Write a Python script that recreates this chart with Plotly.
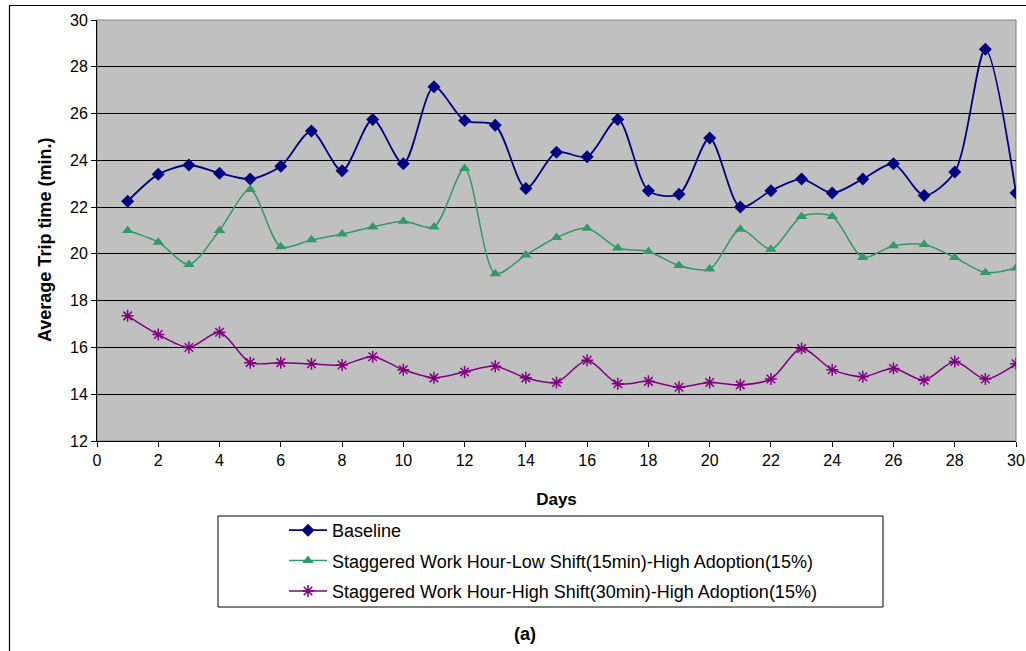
import plotly.graph_objects as go

days = list(range(1, 31))
baseline = [22.25, 23.4, 23.8, 23.45, 23.2, 23.75, 25.25, 23.55, 25.75, 23.85,
            27.15, 25.7, 25.5, 22.8, 24.35, 24.15, 25.75, 22.7, 22.55, 24.95,
            22.0, 22.7, 23.2, 22.6, 23.2, 23.85, 22.5, 23.5, 28.75, 22.6]
low_shift = [21.0, 20.5, 19.55, 21.0, 22.75, 20.3, 20.6, 20.85, 21.15, 21.4,
             21.15, 23.65, 19.15, 19.95, 20.7, 21.1, 20.25, 20.1, 19.5, 19.35,
             21.05, 20.2, 21.6, 21.6, 19.85, 20.35, 20.4, 19.85, 19.2, 19.4]
high_shift = [17.35, 16.55, 16.0, 16.65, 15.35, 15.35, 15.3, 15.25, 15.6, 15.05,
              14.7, 14.95, 15.2, 14.7, 14.5, 15.45, 14.45, 14.55, 14.3, 14.5,
              14.4, 14.65, 15.95, 15.05, 14.75, 15.1, 14.6, 15.4, 14.65, 15.3]
names = ["Baseline",
         "Staggered Work Hour-Low Shift(15min)-High Adoption(15%)",
         "Staggered Work Hour-High Shift(30min)-High Adoption(15%)"]
x_ticks = list(range(0, 31, 2))
y_ticks = list(range(12, 31, 2))

W, H = 1026, 651
L, R, T, B = 97, 1016, 20, 441
def px(xp):
    return (xp - L) / (R - L)
def py(yp):
    return (B - yp) / (B - T)

fig = go.Figure()
fig.add_trace(go.Scatter(x=days, y=baseline, name=names[0], mode="lines+markers",
                         line=dict(color="#000080", width=1.8, shape="spline", smoothing=0.8),
                         marker=dict(symbol="diamond", size=10, color="#000080"),
                         legendgroup="a"))
fig.add_trace(go.Scatter(x=days, y=low_shift, name=names[1], mode="lines+markers",
                         line=dict(color="#339966", width=1.5, shape="spline", smoothing=0.8),
                         marker=dict(symbol="triangle-up", size=10, color="#339966"),
                         legendgroup="b"))
fig.add_trace(go.Scatter(x=days, y=high_shift, name=names[2], mode="lines+markers",
                         line=dict(color="#800080", width=1.5, shape="spline", smoothing=0.8),
                         marker=dict(symbol="asterisk-open", size=10, color="#800080",
                                     line=dict(color="#800080", width=1.5)),
                         legendgroup="c"))

font = "Liberation Sans, Arial, sans-serif"
fig.update_layout(
    width=W, height=H,
    margin=dict(l=L, r=W - R, t=T, b=H - B, autoexpand=False),
    paper_bgcolor="white", plot_bgcolor="#C0C0C0",
    font=dict(family=font, size=16, color="black"),
    showlegend=True,
    legend=dict(x=px(284), y=py(512), xanchor="left", yanchor="top",
                bgcolor="rgba(0,0,0,0)", borderwidth=0,
                font=dict(size=18), tracegroupgap=4, itemwidth=38),
    xaxis=dict(range=[0, 30], tickvals=x_ticks, ticks="outside", ticklen=5,
               tickcolor="black", showgrid=False, zeroline=False, automargin=False,
               showline=True, linecolor="black", linewidth=1, mirror=False,
               tickfont=dict(size=16),
               title=dict(text="<b>Days</b>", font=dict(size=17), standoff=24)),
    yaxis=dict(range=[12, 30], tickvals=y_ticks, ticks="outside", ticklen=5,
               tickcolor="black", showgrid=True, gridcolor="black", gridwidth=1,
               zeroline=False, showline=True, linecolor="black", linewidth=1,
               automargin=False, tickfont=dict(size=16)),
    shapes=[
        dict(type="rect", xref="paper", yref="paper", x0=0, x1=1, y0=0, y1=1,
             line=dict(color="#808080", width=1), layer="below"),
        dict(type="rect", xref="paper", yref="paper", x0=px(218), x1=px(883),
             y0=py(607), y1=py(516), line=dict(color="black", width=1)),
        dict(type="line", xref="paper", yref="paper", x0=px(9), x1=px(1030),
             y0=py(5.5), y1=py(5.5), line=dict(color="black", width=1.2)),
        dict(type="line", xref="paper", yref="paper", x0=px(9.5), x1=px(9.5),
             y0=py(5), y1=py(660), line=dict(color="black", width=1.2)),
    ],
    annotations=[
        dict(text="<b>Average Trip time (min.)</b>", xref="paper", yref="paper",
             x=px(45), y=py(240), xanchor="center", yanchor="middle",
             textangle=-90, showarrow=False, font=dict(size=18)),
        dict(text="<b>(a)</b>", xref="paper", yref="paper", x=px(525), y=py(634),
             xanchor="center", yanchor="middle",
             showarrow=False, font=dict(size=18)),
    ],
)

fig.write_html("out.html")
